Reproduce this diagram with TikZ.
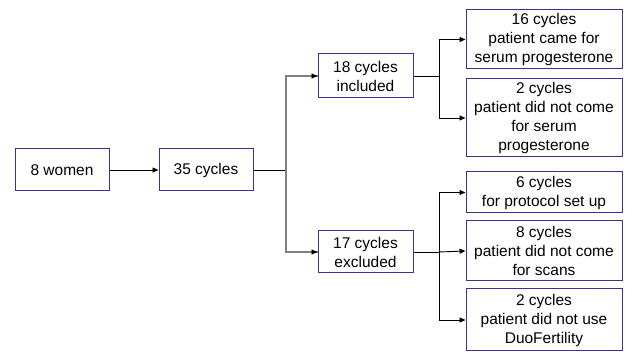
\documentclass[tikz,border=0pt]{standalone}
\usepackage{fontspec}
\setmainfont{Liberation Sans}
\usetikzlibrary{arrows.meta}
\definecolor{boxblue}{RGB}{51,51,153}
\definecolor{connGray}{RGB}{128,128,128}
\begin{document}
\begin{tikzpicture}[x=1pt,y=-1pt,
  flowbox/.style={draw=boxblue,line width=1pt,fill=white,inner sep=0pt,align=center,
    font=\fontsize{15.5}{19}\selectfont},
  conn/.style={line width=0.9pt,black},
  gconn/.style={line width=1.2pt,connGray},
  tip/.style={-{Triangle[length=6pt,width=5pt]}}]
\useasboundingbox (0,0) rectangle (625,352);
\node[flowbox,minimum width=94pt,minimum height=42pt] (w) at (62,170) {8 women};
\node[flowbox,minimum width=94pt,minimum height=42pt] (c35) at (206,170) {35 cycles};
\node[flowbox,minimum width=95pt,minimum height=44pt] (inc) at (365.5,76) {18 cycles\\included};
\node[flowbox,minimum width=95pt,minimum height=42pt] (exc) at (365.5,252) {17 cycles\\excluded};
\node[flowbox,minimum width=156pt,minimum height=59pt] (a16) at (544,39.5) {16 cycles\\patient came for\\serum progesterone};
\node[flowbox,minimum width=156pt,minimum height=78pt] (a2) at (544,118) {2 cycles\\patient did not come\\for serum\\progesterone};
\node[flowbox,minimum width=156pt,minimum height=41pt] (b6) at (544,192.5) {6 cycles\\for protocol set up};
\node[flowbox,minimum width=156pt,minimum height=60pt] (b8) at (544,251) {8 cycles\\patient did not come\\for scans};
\node[flowbox,minimum width=156pt,minimum height=62pt] (b2) at (544,320) {2 cycles\\patient did not use\\DuoFertility};
\coordinate (j1) at (286,170);
\coordinate (j2) at (439,76);
\coordinate (j3) at (439,252);
\draw[conn,tip] (w.east) -- (c35.west);
\draw[conn] (c35.east) -- (j1);
\draw[gconn] (j1) |- ([yshift=0pt]inc.west);
\draw[gconn] (j1) |- (exc.west);
\draw[conn,tip] ([xshift=-6pt]inc.west) -- (inc.west);
\draw[conn,tip] ([xshift=-6pt]exc.west) -- (exc.west);
\draw[conn] (inc.east) -- (j2);
\draw[conn,tip] (j2) |- (a16.west);
\draw[conn,tip] (j2) |- (a2.west);
\draw[conn] (exc.east) -- (j3);
\draw[conn,tip] (j3) |- (b6.west);
\draw[conn,tip] (j3) -- (b8.west);
\draw[conn,tip] (j3) |- (b2.west);
\end{tikzpicture}
\end{document}
